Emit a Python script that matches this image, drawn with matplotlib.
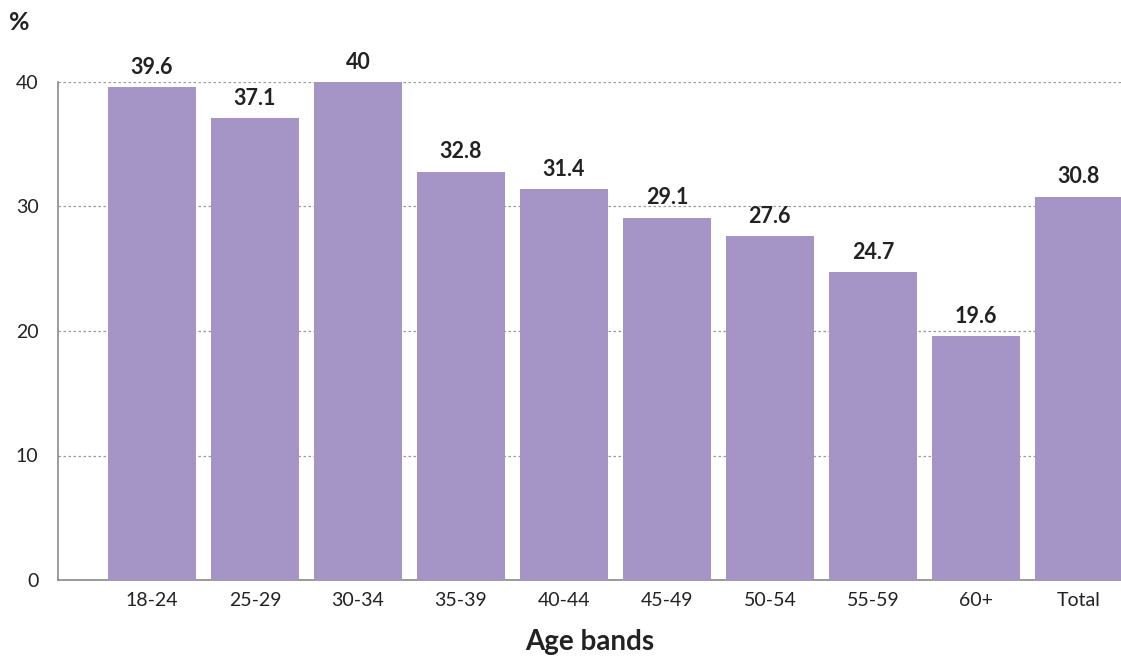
import matplotlib
matplotlib.use("Agg")
import matplotlib.pyplot as plt

categories = ["18-24", "25-29", "30-34", "35-39", "40-44", "45-49", "50-54", "55-59", "60+", "Total"]
values = [39.6, 37.1, 40, 32.8, 31.4, 29.1, 27.6, 24.7, 19.6, 30.8]
labels = ["39.6", "37.1", "40", "32.8", "31.4", "29.1", "27.6", "24.7", "19.6", "30.8"]
yticks = [0, 10, 20, 30, 40]

plt.rcParams['font.family'] = ['Lato', 'DejaVu Sans']
bar_color = "#a594c6"
text_color = "#222222"

fig = plt.figure(figsize=(11.21, 6.59), dpi=100)
ax = fig.add_axes([58/1121, 1-580/659, 1-58/1121, (580-82)/659])

x = list(range(len(categories)))
ax.bar(x, values, width=0.855, color=bar_color, zorder=3)
for xi, v, lab in zip(x, values, labels):
    ax.text(xi, v + 0.75, lab, ha="center", va="bottom", fontsize=15.5,
            fontweight="bold", color=text_color, clip_on=False, zorder=4)

ax.set_xlim(-0.913, 9.41)
ax.set_ylim(0, 40)
ax.set_yticks(yticks)
ax.set_yticklabels([str(t) for t in yticks], fontsize=14, color=text_color)
ax.set_xticks(x)
ax.set_xticklabels(categories, fontsize=14, color=text_color)
ax.tick_params(axis="both", length=0)
ax.tick_params(axis="y", pad=14)
ax.tick_params(axis="x", pad=9)

ax.yaxis.grid(True, linestyle=(0, (2, 2)), color="#999999", linewidth=0.9, zorder=0)
ax.set_axisbelow(True)
for s in ["top", "right"]:
    ax.spines[s].set_visible(False)
for s in ["left", "bottom"]:
    ax.spines[s].set_color("#8a8a8a")
    ax.spines[s].set_linewidth(1.2)

ax.set_xlabel("Age bands", fontsize=20, fontweight="bold", color=text_color, labelpad=14)
fig.text(9/1121, 1-22/659, "%", fontsize=18, fontweight="bold", color=text_color,
         ha="left", va="center")

fig.savefig("out.png", dpi=100)
